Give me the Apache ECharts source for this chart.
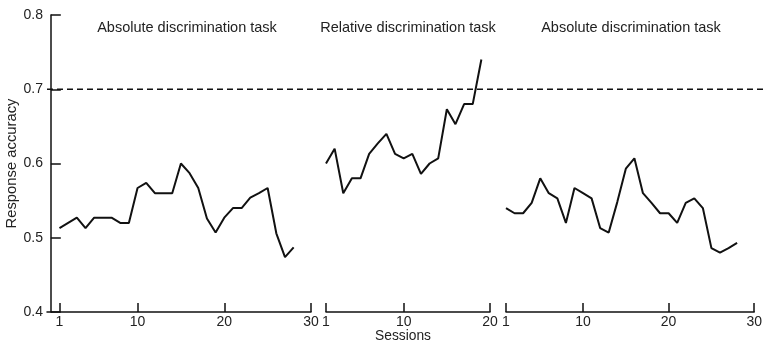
<!DOCTYPE html>
<html>
<head>
<meta charset="utf-8">
<script src="https://cdn.jsdelivr.net/npm/echarts@6/dist/echarts.min.js"></script>
<style>
html,body{margin:0;padding:0;background:#fff;}
#chart{width:765px;height:345px;}
</style>
</head>
<body>
<div id="chart"></div>
<script>
const panelTitles = ["Absolute discrimination task", "Relative discrimination task", "Absolute discrimination task"];
const absolute1 = [0.513,0.520,0.527,0.513,0.527,0.527,0.527,0.520,0.520,0.567,0.574,0.560,0.560,0.560,0.600,0.587,0.567,0.526,0.507,0.527,0.540,0.540,0.554,0.560,0.567,0.506,0.474,0.487];
const relative = [0.600,0.620,0.560,0.580,0.580,0.613,0.627,0.640,0.613,0.607,0.613,0.586,0.600,0.607,0.673,0.653,0.680,0.680,0.740];
const absolute2 = [0.540,0.533,0.533,0.547,0.580,0.560,0.553,0.520,0.567,0.560,0.553,0.513,0.507,0.548,0.593,0.607,0.560,0.547,0.533,0.533,0.520,0.547,0.553,0.540,0.486,0.480,0.486,0.493];
const criterion = 0.7;
const xTicks1 = [1,10,20,30];
const xTicks2 = [1,10,20];
const xTicks3 = [1,10,20,30];
const yTicks = [0.4,0.5,0.6,0.7,0.8];

const FONT = "Liberation Sans, Arial, Helvetica, sans-serif";
const INK = "#111";
const TXT = "#222";

function toPairs(arr){ return arr.map((v,i)=>[i+1,v]); }

function xAxisCfg(idx, min, max, ticks){
  return {
    type:'value', gridIndex:idx, min:min, max:max,
    axisLine:{show:true, lineStyle:{color:INK,width:1.5}},
    axisTick:{show:true, inside:true, length:9, customValues:ticks, lineStyle:{color:INK,width:1.5}},
    axisLabel:{show:true, customValues:ticks, color:TXT, fontSize:14, fontFamily:FONT, margin:3},
    splitLine:{show:false}
  };
}
function yHidden(idx){
  return {type:'value', gridIndex:idx, min:0.4, max:0.8, show:false, splitLine:{show:false}};
}
const titleStyle = {fontSize:14.5, fontWeight:'normal', color:TXT, fontFamily:FONT};

const chart = echarts.init(document.getElementById('chart'), null, {renderer:'canvas'});
chart.setOption({
  animation:false,
  backgroundColor:'#fff',
  title: [
    {text:panelTitles[0], left:182, top:15, textAlign:'center', textStyle:titleStyle},
    {text:panelTitles[1], left:403, top:15, textAlign:'center', textStyle:titleStyle},
    {text:panelTitles[2], left:626, top:15, textAlign:'center', textStyle:titleStyle}
  ],
  grid: [
    {left:47, top:15, width:264, height:297},
    {left:326, top:15, width:164, height:297},
    {left:506, top:15, width:251, height:297},
    {left:47, top:15, width:718, height:297}
  ],
  xAxis: [
    xAxisCfg(0, -0.44, 30, xTicks1),
    xAxisCfg(1, 1, 20, xTicks2),
    xAxisCfg(2, 1, 30, xTicks3),
    {type:'value', gridIndex:3, min:0, max:1, show:false, splitLine:{show:false}}
  ],
  yAxis: [
    {type:'value', gridIndex:0, min:0.4, max:0.8, interval:0.1,
     name:'Response accuracy', nameLocation:'middle', nameGap:28,
     nameTextStyle:{fontSize:14.8, color:TXT, fontFamily:FONT},
     axisLine:{show:true, lineStyle:{color:INK,width:1.5}},
     axisTick:{show:true, inside:true, length:10, customValues:yTicks, lineStyle:{color:INK,width:1.5}},
     axisLabel:{color:TXT, fontSize:14, fontFamily:FONT, margin:4, formatter:v=>v.toFixed(1)},
     splitLine:{show:false}},
    yHidden(1), yHidden(2), yHidden(3)
  ],
  graphic: [
    {type:'text', style:{text:'Sessions', x:403, y:336, textAlign:'center', textVerticalAlign:'middle', fontSize:13.8, fill:TXT, fontFamily:FONT}}
  ],
  series: [
    {type:'line', xAxisIndex:3, yAxisIndex:3, data:[[0,criterion],[1,criterion]], symbol:'none', lineStyle:{color:INK, width:1.5, type:[6,4]}, silent:true},
    {type:'line', xAxisIndex:0, yAxisIndex:0, data:toPairs(absolute1), symbol:'none', lineStyle:{color:INK, width:2}},
    {type:'line', xAxisIndex:1, yAxisIndex:1, data:toPairs(relative), symbol:'none', lineStyle:{color:INK, width:2}},
    {type:'line', xAxisIndex:2, yAxisIndex:2, data:toPairs(absolute2), symbol:'none', lineStyle:{color:INK, width:2}}
  ]
});
</script>
</body>
</html>
